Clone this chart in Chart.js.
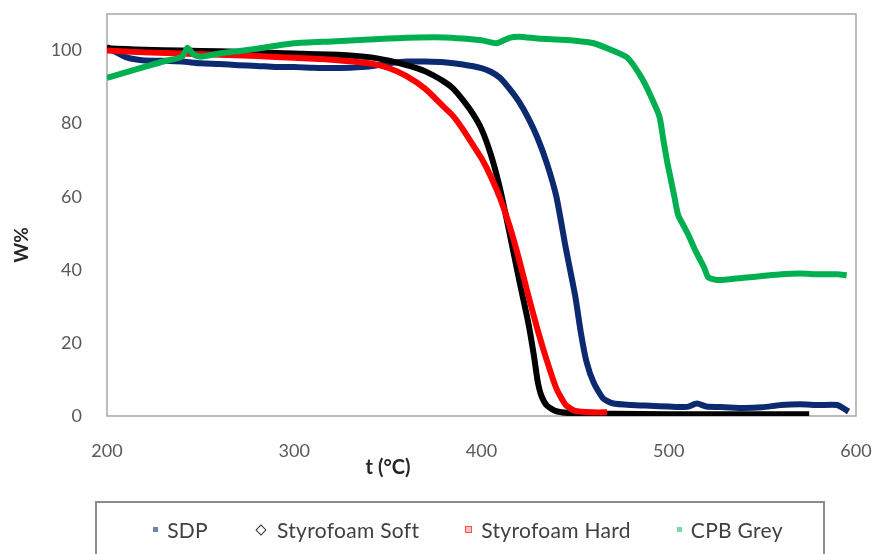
<!DOCTYPE html>
<html>
<head>
<meta charset="utf-8">
<script src="https://cdn.jsdelivr.net/npm/chart.js@4.4.1/dist/chart.umd.min.js"></script>
<style>
  html, body { margin: 0; padding: 0; background: #fff; overflow: hidden; }
  #wrap { position: relative; width: 879px; height: 554px; font-family: Lato, "Open Sans", sans-serif; }
  #legend {
    position: absolute; left: 95px; top: 501px; width: 730px; height: 70px;
    border: 2px solid #8c8c8c; box-sizing: border-box;
    display: flex; justify-content: center; align-items: flex-start; gap: 46px;
    padding-top: 14px; padding-left: 16px; color: #404040; font-size: 21px;
  }
  .item { display: flex; align-items: center; gap: 9px; white-space: nowrap; letter-spacing: 0.3px; }
  .mk { display: inline-block; box-sizing: border-box; }
</style>
</head>
<body>
<div id="wrap">
  <canvas id="chart" width="879" height="554"></canvas>
  <div id="legend"></div>
</div>
<script>
const canvas = document.getElementById("chart");
const legendBox = document.getElementById("legend");

// Series: [t in °C, W %]
const sdpT = [200, 205, 210, 215, 220, 230, 240, 250, 260, 270, 280, 290, 300, 310, 320, 330, 340, 350, 360, 370, 380, 390, 400, 405, 410, 415, 420, 425, 430, 435, 440, 445, 450, 453, 456, 460, 465, 470, 480, 490, 500, 510, 515, 520, 530, 540, 550, 560, 570, 580, 590, 596];
const sdpW = [101, 99.5, 98.2, 97.6, 97.3, 97.2, 97, 96.5, 96.3, 96, 95.8, 95.5, 95.5, 95.3, 95.2, 95.3, 95.6, 96.5, 97, 97, 96.8, 96.2, 95.2, 94.2, 92.5, 89.5, 86, 81.5, 76, 69, 60, 46, 33, 23, 15, 9, 4.8, 3.5, 3, 2.8, 2.6, 2.5, 3.4, 2.6, 2.4, 2.2, 2.4, 3, 3.2, 3, 3, 1.2];

const softT = [200, 210, 220, 240, 260, 280, 300, 320, 340, 350, 360, 370, 380, 385, 390, 395, 400, 405, 410, 415, 420, 425, 428, 430, 432, 435, 440, 450, 470, 500, 540, 575];
const softW = [100.6, 100.4, 100.2, 100, 99.8, 99.5, 99.2, 98.9, 98.2, 97.3, 96, 94.3, 91.5, 89.5, 86.5, 83, 78.5, 71.5, 62, 50, 37.5, 25.5, 16.5, 9.5, 5.5, 2.8, 1.3, 0.7, 0.6, 0.5, 0.5, 0.5];

const hardT = [200, 220, 250, 280, 300, 320, 340, 350, 360, 370, 380, 385, 390, 395, 400, 405, 410, 415, 420, 425, 430, 435, 440, 445, 450, 460, 467];
const hardW = [100, 99.5, 99, 98.5, 98, 97.5, 96.5, 95.3, 93, 89.5, 84.5, 82, 78.5, 74.5, 70.5, 65.5, 59.5, 52, 43, 33, 23.5, 15, 7.5, 3, 1.4, 1, 1];

const cpbT = [200, 210, 220, 230, 240, 243, 246, 250, 260, 270, 280, 290, 300, 320, 340, 360, 380, 390, 400, 408, 415, 420, 430, 440, 450, 460, 470, 478, 485, 490, 495, 497, 499, 501, 503, 505, 508, 511, 514, 517, 519, 521, 525, 530, 540, 550, 560, 570, 580, 590, 595];
const cpbW = [92.5, 94, 95.5, 97, 98.3, 100.8, 99, 98.3, 99.2, 99.8, 100.5, 101.3, 102, 102.5, 103, 103.5, 103.6, 103.3, 102.8, 102, 103.5, 103.8, 103.3, 103, 102.7, 102, 100, 98, 93, 88, 82, 76, 70, 65, 60, 55, 52, 49, 45.5, 42.5, 40.5, 38, 37.3, 37.3, 37.8, 38.3, 38.8, 39, 38.8, 38.8, 38.5];

const seriesNames = ["SDP", "Styrofoam Soft", "Styrofoam Hard", "CPB Grey"];
const xTicks = [200, 300, 400, 500, 600];
const yTicks = [0, 20, 40, 60, 80, 100];

const colors = ["#0b2a6f", "#000000", "#ff0000", "#00b050"];
const tickColor = "#595959";

function pts(t, w) {
  return t.map((v, i) => ({ x: v, y: w[i] }));
}

const allData = [pts(sdpT, sdpW), pts(softT, softW), pts(hardT, hardW), pts(cpbT, cpbW)];

// gray frame round the plot area and the two moved axis titles
const frameAndTitles = {
  id: "frameAndTitles",
  beforeDatasetsDraw(chart) {
    const a = chart.chartArea;
    const ctx = chart.ctx;
    ctx.save();
    ctx.strokeStyle = "#a6a6a6";
    ctx.lineWidth = 1.5;
    ctx.strokeRect(a.left, a.top, a.right - a.left, a.bottom - a.top);
    ctx.restore();
  },
  afterDraw(chart) {
    const ctx = chart.ctx;
    ctx.save();
    ctx.fillStyle = "#262626";
    ctx.font = "bold 20px Lato, 'Open Sans', sans-serif";
    ctx.textAlign = "center";
    ctx.textBaseline = "middle";
    ctx.fillText("t (°C)", 388, 468);
    ctx.font = "bold 19px Lato, 'Open Sans', sans-serif";
    ctx.translate(22, 245);
    ctx.rotate(-Math.PI / 2);
    ctx.fillText("W%", 0, 0);
    ctx.restore();
  }
};

// stop the scales from reserving room for half-labels at the ends
function noEdgePadding(s) {
  s.paddingTop = 0;
  s.paddingBottom = 0;
  s.paddingLeft = 0;
  s.paddingRight = 0;
}

const chart = new Chart(canvas, {
  type: "scatter",
  data: {
    datasets: seriesNames.map((name, i) => ({
      label: name,
      data: allData[i],
      showLine: true,
      borderColor: colors[i],
      backgroundColor: colors[i],
      borderWidth: 6,
      pointRadius: 0,
      tension: 0.2,
      order: 4 - i
    }))
  },
  options: {
    responsive: false,
    animation: false,
    layout: { padding: { top: 14, right: 23, left: 0, bottom: 0 } },
    plugins: {
      legend: { display: false },
      tooltip: { enabled: false }
    },
    scales: {
      x: {
        type: "linear",
        min: 200,
        max: 600,
        afterBuildTicks: s => { s.ticks = xTicks.map(v => ({ value: v })); },
        afterFit: s => { s.height = 138; noEdgePadding(s); },
        grid: { display: false, drawTicks: false },
        border: { display: false },
        ticks: { color: tickColor, font: { family: "Lato", size: 18 }, padding: 24 }
      },
      y: {
        min: 0,
        max: 110,
        afterBuildTicks: s => { s.ticks = yTicks.map(v => ({ value: v })); },
        afterFit: s => { s.width = 107; noEdgePadding(s); },
        grid: { display: false, drawTicks: false },
        border: { display: false },
        ticks: { color: tickColor, font: { family: "Lato", size: 18 }, padding: 25 }
      }
    }
  },
  plugins: [frameAndTitles]
});

// Legend in a box under the chart, built from the datasets
const markerStyles = [
  "width:5px;height:5px;background:#6f83b5;",
  "width:8px;height:8px;border:1.5px solid #333;transform:rotate(45deg);margin:0 3px;",
  "width:7px;height:7px;border:1.5px solid #ff5050;background:#ffc0c0;",
  "width:5px;height:5px;background:#7fd8a8;"
];
chart.data.datasets.forEach((ds, i) => {
  const item = document.createElement("span");
  item.className = "item";
  item.innerHTML = `<span class="mk" style="${markerStyles[i]}"></span><span>${ds.label}</span>`;
  legendBox.appendChild(item);
});
</script>
</body>
</html>
